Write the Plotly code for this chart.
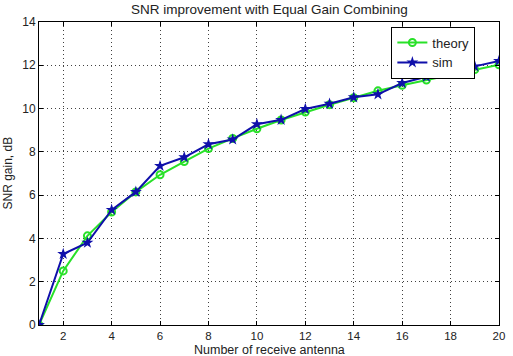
import plotly.graph_objects as go

antennas = list(range(1, 21))
theory = [0.0, 2.50, 4.12, 5.22, 6.15, 6.94, 7.55, 8.15, 8.62, 9.07, 9.47, 9.84, 10.18, 10.50, 10.82, 11.08, 11.32, 11.57, 11.80, 12.02]
sim = [0.0, 3.28, 3.80, 5.32, 6.15, 7.35, 7.75, 8.35, 8.57, 9.28, 9.48, 9.98, 10.22, 10.52, 10.66, 11.18, 11.47, 11.82, 11.95, 12.20]
x_ticks = [2, 4, 6, 8, 10, 12, 14, 16, 18, 20]
y_ticks = [0, 2, 4, 6, 8, 10, 12, 14]

green = "rgb(40,225,40)"
blue = "rgb(15,15,170)"
font = "Liberation Sans, Arial, sans-serif"

fig = go.Figure()
fig.add_trace(go.Scatter(x=antennas, y=theory, name="theory", mode="lines+markers",
                         line=dict(color=green, width=2),
                         marker=dict(symbol="circle-open", size=7, color=green, line=dict(width=2))))
fig.add_trace(go.Scatter(x=antennas, y=sim, name="sim", mode="lines+markers",
                         line=dict(color=blue, width=2),
                         marker=dict(symbol="star", size=9, color=blue)))

axis_common = dict(showline=True, linecolor="black", linewidth=1, mirror="ticks",
                   ticks="inside", ticklen=4, tickcolor="black",
                   showgrid=True, gridcolor="rgba(0,0,0,0.75)", griddash="1px,3px", gridwidth=1,
                   zeroline=False, tickfont=dict(family=font, size=12, color="#222"))

fig.update_xaxes(range=[1, 20], tickvals=x_ticks, **axis_common)
fig.update_yaxes(range=[0, 14], tickvals=y_ticks, **axis_common)
fig.update_xaxes(tickfont=dict(family=font, size=11.5, color="#222"))

fig.update_layout(
    width=513, height=356,
    margin=dict(l=39, r=8, t=22, b=31),
    paper_bgcolor="white", plot_bgcolor="white",
    font=dict(family=font, size=12, color="#222"),
    showlegend=True,
    legend=dict(x=0.766, y=0.985, xanchor="left", yanchor="top",
                bgcolor="white", bordercolor="black", borderwidth=1,
                font=dict(family=font, size=13, color="#222"),
                tracegroupgap=0),
    annotations=[
        dict(text="SNR improvement with Equal Gain Combining", xref="paper", yref="paper",
             x=0.5, y=1, yshift=3, xanchor="center", yanchor="bottom", showarrow=False,
             font=dict(family=font, size=13.5, color="#222")),
        dict(text="Number of receive antenna", xref="paper", yref="paper",
             x=0.5, y=0, yshift=-17, xanchor="center", yanchor="top", showarrow=False,
             borderpad=0, font=dict(family=font, size=12.5, color="#222")),
        dict(text="SNR gain, dB", xref="paper", yref="paper",
             x=0, xshift=-32, y=0.5, xanchor="center", yanchor="middle", textangle=-90,
             showarrow=False, font=dict(family=font, size=12, color="#222")),
    ],
)

fig.write_html("out.html")
